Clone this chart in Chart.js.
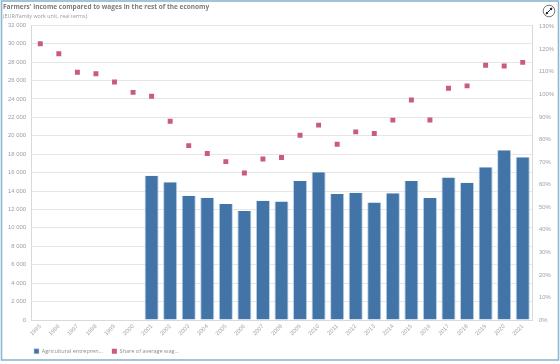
<!DOCTYPE html>
<html>
<head>
<meta charset="utf-8">
<script src="https://cdn.jsdelivr.net/npm/chart.js@4"></script>
<style>
html,body{margin:0;padding:0;background:#fff;overflow:hidden}
#frame{position:absolute;left:0;top:0;width:560px;height:364px}
canvas{display:block}
</style>
</head>
<body>
<div id="frame"><canvas id="c" width="560" height="364"></canvas></div>
<script>
const years = ['1995','1996','1997','1998','1999','2000','2001','2002','2003','2004','2005','2006','2007','2008','2009','2010','2011','2012','2013','2014','2015','2016','2017','2018','2019','2020','2021'];
const income = [null,null,null,null,null,null,15670,14940,13490,13275,12580,11820,12950,12870,15080,16030,13670,13820,12765,13745,15080,13230,15480,14910,16570,18420,17660];
const share = [122.5,118,109.8,109.2,105.5,100.9,99.2,88.1,77.3,73.8,70.2,65.2,71.4,72,81.9,86.4,77.9,83.4,82.7,88.6,97.5,88.7,102.7,103.8,112.9,112.6,114.2];
const seriesNames = ['Agricultural entrepren...','Share of average wag...'];
const titleText = "Farmers' income compared to wages in the rest of the economy";
const subtitleText = '(EUR/family work unit, real terms)';

const frameAndIcon = {
  id:'frameAndIcon',
  afterLayout(ch){ ch.legend.left += 22; ch.legend.right += 22; },
  afterDraw(ch){
    const c = ch.ctx; c.save();
    c.strokeStyle='#8db6cf'; c.lineWidth=1.6;
    c.strokeRect(1.5,1,557,359);
    const x=549,y=11;
    c.strokeStyle='#555'; c.lineWidth=0.8;
    c.beginPath(); c.arc(x,y,5.8,0,Math.PI*2); c.stroke();
    c.strokeStyle='#222'; c.lineWidth=1;
    c.beginPath(); c.moveTo(x-3,y+3); c.lineTo(x+3,y-3); c.stroke();
    c.fillStyle='#222';
    c.beginPath(); c.moveTo(x+3.4,y-3.4); c.lineTo(x+0.6,y-2.8); c.lineTo(x+2.8,y-0.6); c.fill();
    c.beginPath(); c.moveTo(x-3.4,y+3.4); c.lineTo(x-0.6,y+2.8); c.lineTo(x-2.8,y+0.6); c.fill();
    c.restore();
  }
};

new Chart(document.getElementById('c'),{
  data:{labels:years,datasets:[
    {type:'bar',label:seriesNames[0],data:income,yAxisID:'y',order:2,
     backgroundColor:'#4374a8',borderColor:'#b9d3e6',borderWidth:{top:0,left:1,right:1,bottom:0},
     categoryPercentage:0.76,barPercentage:1},
    {type:'line',label:seriesNames[1],data:share,yAxisID:'y2',order:1,showLine:false,
     pointStyle:'rect',pointRadius:3.5,pointHoverRadius:3.5,borderWidth:0,pointBorderWidth:0,
     pointBackgroundColor:'#c95b7e',backgroundColor:'#c95b7e',borderColor:'#c95b7e'}
  ]},
  options:{
    responsive:false,animation:false,
    layout:{padding:{left:3,right:4,top:3.5,bottom:0}},
    plugins:{
      tooltip:{enabled:false},
      title:{display:true,text:titleText,align:'start',color:'#7b7b7b',
        font:{family:'"Open Sans"',size:6.5,weight:'bold'},padding:{top:0,bottom:2}},
      subtitle:{display:true,text:subtitleText,align:'start',color:'#9a9a9a',
        font:{family:'"Open Sans"',size:5.4},padding:{top:0,bottom:5.4}},
      legend:{display:true,position:'bottom',align:'start',
        labels:{boxWidth:5,boxHeight:5,padding:9,color:'#8c8c8c',
          sort:(a,b)=>a.datasetIndex-b.datasetIndex,
          font:{family:'"Open Sans"',size:5.5}}}
    },
    scales:{
      x:{offset:true,
        grid:{display:false,drawTicks:false},
        border:{color:'#d9d9d9'},
        ticks:{maxRotation:45,minRotation:45,autoSkip:false,color:'#a6a6a6',padding:3,
          font:{family:'"Liberation Sans"',size:5.8}},
        afterFit(s){s.height=19.5;}
      },
      y:{position:'left',min:0,max:32000,
        grid:{color:'#e6e6e6',drawTicks:false,lineWidth:1},
        border:{color:'#d9d9d9'},
        ticks:{stepSize:2000,color:'#9c9c9c',padding:5,
          font:{family:'"Liberation Sans"',size:5.9},
          callback:v=>String(v).replace(/\B(?=(\d{3})+$)/g,' ')},
        afterFit(s){s.width=28;}
      },
      y2:{position:'right',min:0,max:130.7,
        grid:{display:false,drawTicks:false},
        border:{color:'#d9d9d9'},
        ticks:{stepSize:10,includeBounds:false,color:'#a0a0a0',padding:7,
          font:{family:'"Liberation Sans"',size:5.9},
          callback:v=>v+'%'},
        afterFit(s){s.width=24;}
      }
    }
  },
  plugins:[frameAndIcon]
});
</script>
</body>
</html>
